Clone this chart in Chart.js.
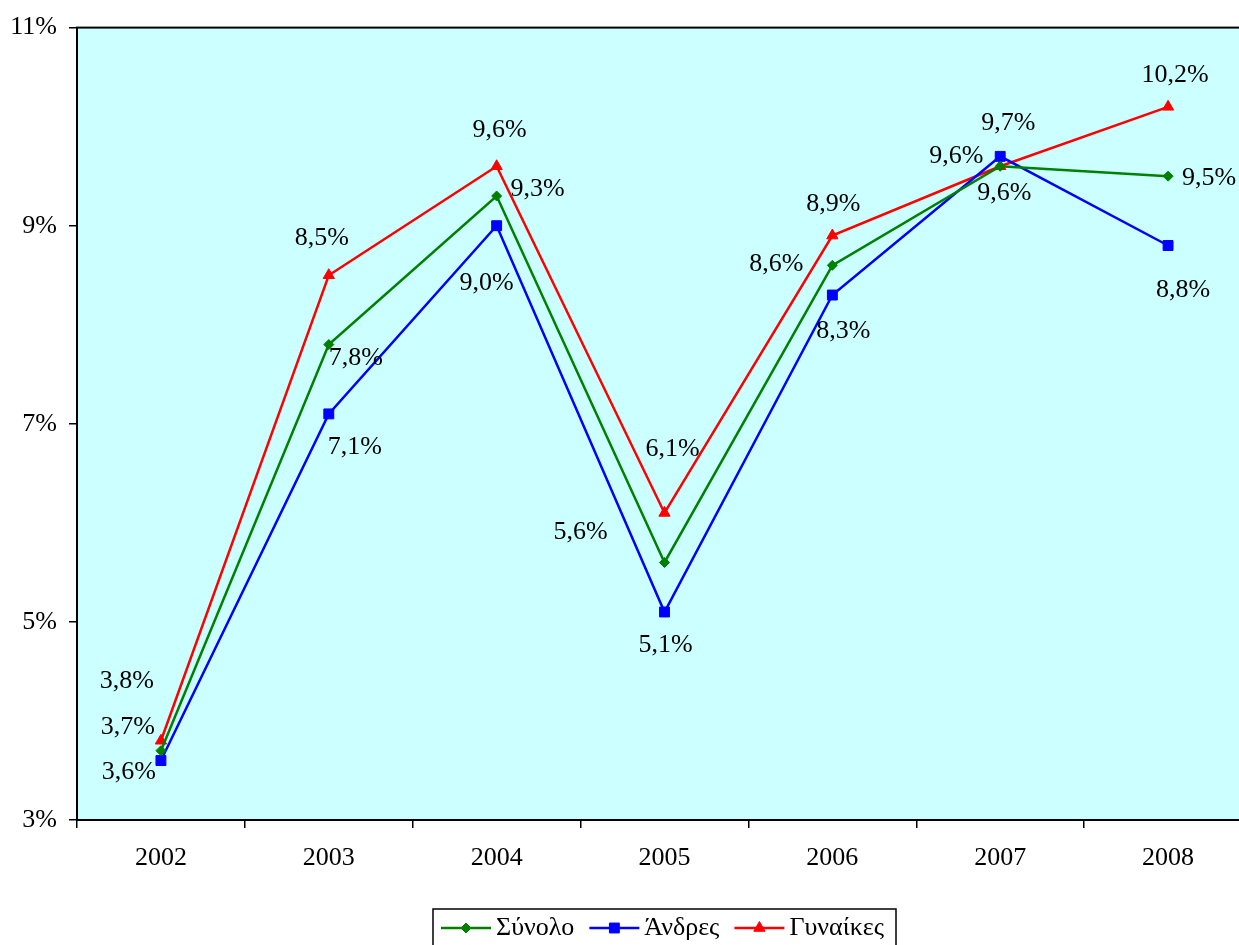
<!DOCTYPE html>
<html>
<head>
<meta charset="utf-8">
<script src="https://cdn.jsdelivr.net/npm/chart.js@4.4.1/dist/chart.umd.min.js"></script>
<style>
  html, body { margin: 0; padding: 0; background: #fff; overflow: hidden; }
  #wrap { width: 1260px; height: 945px; }
</style>
</head>
<body>
<div id="wrap"><canvas id="chart" width="1260" height="945"></canvas></div>
<script>
// Data
const years = ['2002', '2003', '2004', '2005', '2006', '2007', '2008'];
const totalRate = [3.7, 7.8, 9.3, 5.6, 8.6, 9.6, 9.5];   // Σύνολο
const menRate = [3.6, 7.1, 9.0, 5.1, 8.3, 9.7, 8.8];     // Άνδρες
const womenRate = [3.8, 8.5, 9.6, 6.1, 8.9, 9.6, 10.2];  // Γυναίκες
const yTicks = [3, 5, 7, 9, 11];

// where each value label sits relative to its marker (px)
const labelShift = [
    [[-33, -23], [27, 14], [41, -7], [-84, -30], [-56, -1], [4, 27], [41, 2]],
    [[-32, 12], [26, 33], [-10, 57], [1, 33], [11, 36], [8, -33], [15, 45]],
    [[-34, -60], [-7, -37], [3, -36], [8, -64], [1, -31], [-44, -10], [7, -32]]
];

const FONT = '"Liberation Serif", "Times New Roman", serif';
const FSIZE = 26;

function fmt(v) {
    return v.toFixed(1).replace('.', ',') + '%';
}

const plotBg = {
    id: 'plotBg',
    beforeDraw(chart) {
        const { ctx, chartArea: a } = chart;
        ctx.save();
        ctx.fillStyle = '#CCFFFF';
        ctx.fillRect(a.left, a.top, a.right - a.left, a.bottom - a.top);
        ctx.restore();
    },
    afterDraw(chart) {
        const { ctx, chartArea: a } = chart;
        ctx.save();
        ctx.strokeStyle = '#000';
        ctx.lineWidth = 2;
        ctx.strokeRect(a.left, a.top, a.right - a.left, a.bottom - a.top);
        ctx.restore();
    }
};

const valueLabels = {
    id: 'valueLabels',
    afterDatasetsDraw(chart) {
        const ctx = chart.ctx;
        ctx.save();
        ctx.font = FSIZE + 'px ' + FONT;
        ctx.fillStyle = '#000';
        ctx.textAlign = 'center';
        ctx.textBaseline = 'middle';
        chart.data.datasets.forEach((ds, i) => {
            const meta = chart.getDatasetMeta(i);
            meta.data.forEach((pt, j) => {
                const s = labelShift[i][j];
                ctx.fillText(fmt(ds.data[j]), pt.x + s[0], pt.y + s[1]);
            });
        });
        ctx.restore();
    }
};

const boxLegend = {
    id: 'boxLegend',
    afterDraw(chart) {
        const ctx = chart.ctx;
        const a = chart.chartArea;
        ctx.save();
        ctx.font = FSIZE + 'px ' + FONT;
        const items = chart.data.datasets.map(ds => ({
            ds, w: 50 + 5 + ctx.measureText(ds.label).width
        }));
        const gap = 15, padL = 8, padR = 12;
        const total = items.reduce((s, it) => s + it.w, 0) + gap * (items.length - 1) + padL + padR;
        const cx = (a.left + a.right) / 2;
        const left = Math.round(cx - total / 2);
        const top = 909, h = 42, midY = 928;
        ctx.fillStyle = '#fff';
        ctx.fillRect(left, top, total, h);
        ctx.strokeStyle = '#000';
        ctx.lineWidth = 1.5;
        ctx.strokeRect(left, top, total, h);
        let x = left + padL;
        items.forEach(it => {
            const ds = it.ds;
            ctx.strokeStyle = ds.borderColor;
            ctx.fillStyle = ds.borderColor;
            ctx.lineWidth = 2.5;
            ctx.beginPath();
            ctx.moveTo(x, midY);
            ctx.lineTo(x + 50, midY);
            ctx.stroke();
            ctx.lineWidth = 1;
            Chart.helpers.drawPoint(ctx, {
                pointStyle: ds.pointStyle,
                radius: ds.pointRadius,
                borderWidth: 1,
                rotation: 0
            }, x + 25, midY);
            ctx.fillStyle = '#000';
            ctx.textAlign = 'left';
            ctx.textBaseline = 'middle';
            ctx.fillText(ds.label, x + 55, midY);
            x += it.w + gap;
        });
        ctx.restore();
    }
};

function series(label, data, color, style, radius) {
    return {
        label, data,
        borderColor: color,
        backgroundColor: color,
        pointBackgroundColor: color,
        pointBorderColor: color,
        borderWidth: 2.5,
        pointStyle: style,
        pointRadius: radius,
        pointBorderWidth: 1,
        tension: 0
    };
}

new Chart(document.getElementById('chart'), {
    type: 'line',
    data: {
        labels: years,
        datasets: [
            series('Σύνολο', totalRate, '#008000', 'rectRot', 5),
            series('Άνδρες', menRate, '#0000FF', 'rect', 7),
            series('Γυναίκες', womenRate, '#FF0000', 'triangle', 6.5)
        ]
    },
    options: {
        responsive: false,
        animation: false,
        layout: { padding: { top: 27, right: 7, left: 0, bottom: 0 } },
        plugins: { legend: { display: false }, tooltip: { enabled: false } },
        scales: {
            x: {
                offset: true,
                grid: { offset: true, drawOnChartArea: false, drawTicks: true, tickLength: 8, color: '#000', lineWidth: 1.5 },
                border: { display: true, color: '#000', width: 2 },
                ticks: { color: '#000', font: { family: FONT, size: FSIZE }, padding: 15, maxRotation: 0 },
                afterFit(s) { s.height = 125; }
            },
            y: {
                min: 3, max: 11,
                afterBuildTicks(s) { s.ticks = yTicks.map(v => ({ value: v })); },
                grid: { drawOnChartArea: false, drawTicks: true, tickLength: 8, color: '#000', lineWidth: 1.5 },
                border: { display: true, color: '#000', width: 2 },
                ticks: { color: '#000', font: { family: FONT, size: FSIZE }, padding: 12, callback: v => v + '%' },
                afterFit(s) { s.width = 77; }
            }
        }
    },
    plugins: [plotBg, valueLabels, boxLegend]
});
</script>
</body>
</html>
